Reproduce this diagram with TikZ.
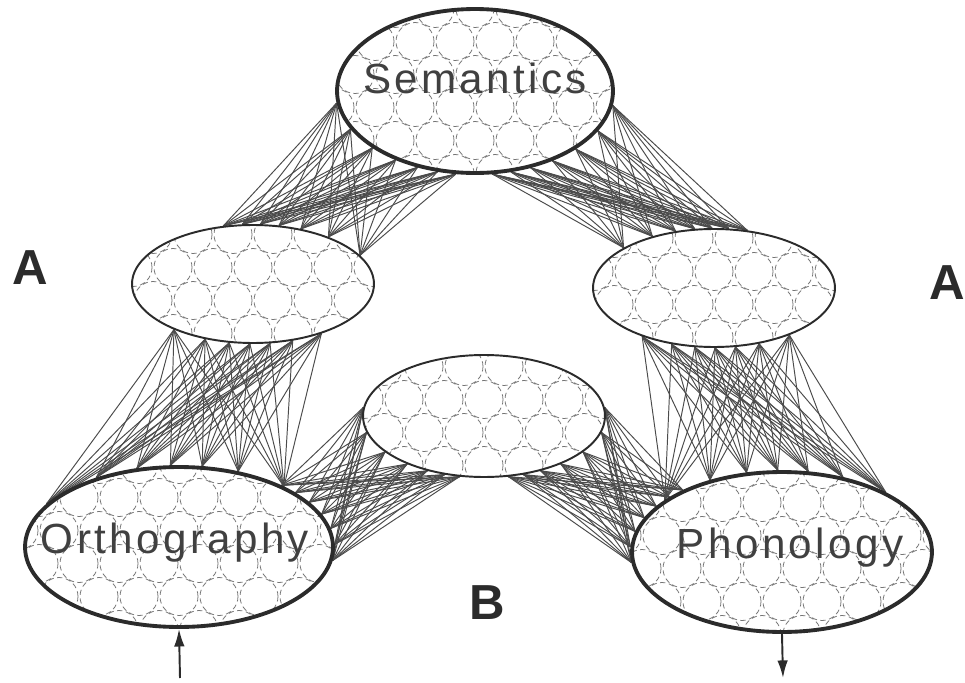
\documentclass[tikz,border=0pt]{standalone}
\usepackage{fontspec}
\setmainfont{Liberation Sans}
\newfontfamily\layerfont[LetterSpace=8]{Liberation Sans}
\usetikzlibrary{shapes.geometric,backgrounds,arrows.meta}

\definecolor{ink}{HTML}{2B2B2B}

\tikzset{
  layer/.style={ellipse, draw=ink, line width=2.2pt, inner sep=0pt},
  hidden/.style={ellipse, draw=ink, line width=1.1pt, inner sep=0pt},
  unit/.style={ink!65, densely dashed, line width=0.45pt},
  conn/.style={ink!85, line width=0.55pt},
  layername/.style={text=ink!90, font=\layerfont\fontsize{24}{28}\selectfont},
  pathname/.style={text=ink, font=\bfseries\fontsize{28}{32}\selectfont},
  io/.style={ink, line width=1.1pt, -{Latex[length=10pt,width=6pt]}}
}

% units packed inside a layer
\newcommand\unitgrid[4]{%
  \begin{scope}
    \clip (#1,#2) ellipse [x radius=#3, y radius=#4];
    \foreach \r in {-3,...,3}
      \foreach \c in {-5,...,5} {
        \pgfmathsetmacro\sx{mod(abs(\r),2)*20}
        \draw[unit] (#1+\c*40+\sx, #2+\r*33+16.5) circle [radius=19];
      }
  \end{scope}}

% all-to-all projection between two layers
\newcommand\fan[4]{%
  \foreach \a in {#2}
    \foreach \b in {#4}
      \draw[conn] (#1.\a) -- (#3.\b);}

\begin{document}
\begin{tikzpicture}[x=0.02cm, y=0.02cm]
\useasboundingbox (0,0) rectangle (965,-683);
%
	\node[layer, minimum width=5.52cm, minimum height=3.28cm] (sem) at (475,-91) {};
	\node[layer, minimum width=6.16cm, minimum height=3.2cm] (orth) at (179,-547) {};
	\node[layer, minimum width=6cm, minimum height=3.2cm] (phon) at (782,-552) {};
	\node[hidden, minimum width=4.84cm, minimum height=2.36cm] (hl) at (253,-284) {};
	\node[hidden, minimum width=4.84cm, minimum height=2.36cm] (hr) at (714,-288) {};
	\node[hidden, minimum width=4.84cm, minimum height=2.44cm] (hm) at (484,-416) {};
%
	\node[layername] (semname) at (475,-78) {Semantics};
	\node[layername] (orthname) at (175,-543) {Orthography};
	\node[layername] (phonname) at (790,-548) {Phonology};
%
	\node[pathname] (al) at (30,-268) {A};
	\node[pathname] (ar) at (947,-283) {A};
	\node[pathname] (b) at (487,-603) {B};
%
	\coordinate (orthin) at (180,-678);
	\coordinate (phonout) at (783,-678);
	\draw[io] (orthin) -- (orth.south);
	\draw[io] (phon.south) -- (phonout);
%
\begin{pgfonlayer}{background}
	\fan{sem}{185,197,...,257}{hl}{15,32,...,117}
	\fan{sem}{282,294,...,354}{hr}{60,76,...,156}
	\fan{hl}{210,229,...,324}{orth}{30,52,...,162}
	\fan{hr}{214,233,...,328}{phon}{30,51,...,156}
	\fan{orth}{-5,1,...,31}{hm}{176,188,...,248}
	\fan{hm}{292,304,...,364}{phon}{148,154,...,184}
%
	\unitgrid{475}{-91}{138}{82}
	\unitgrid{179}{-547}{154}{80}
	\unitgrid{782}{-552}{150}{80}
	\unitgrid{253}{-284}{121}{59}
	\unitgrid{714}{-288}{121}{59}
	\unitgrid{484}{-416}{121}{61}
\end{pgfonlayer}
\end{tikzpicture}
\end{document}
